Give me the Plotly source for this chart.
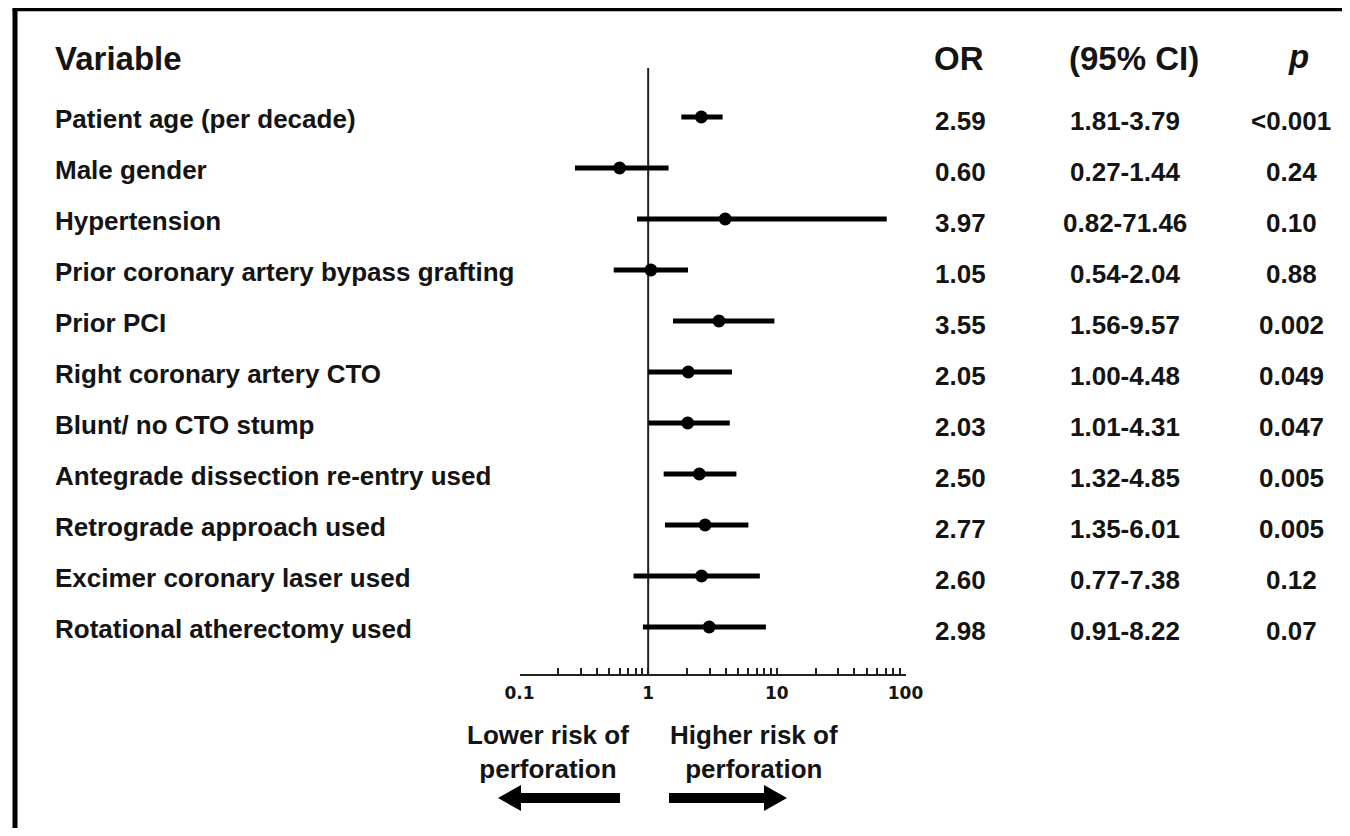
import plotly.graph_objects as go

variables = [
    "Patient age (per decade)",
    "Male gender",
    "Hypertension",
    "Prior coronary artery bypass grafting",
    "Prior PCI",
    "Right coronary artery CTO",
    "Blunt/ no CTO stump",
    "Antegrade dissection re-entry used",
    "Retrograde approach used",
    "Excimer coronary laser used",
    "Rotational atherectomy used",
]
odds_ratio = [2.59, 0.60, 3.97, 1.05, 3.55, 2.05, 2.03, 2.50, 2.77, 2.60, 2.98]
ci_low = [1.81, 0.27, 0.82, 0.54, 1.56, 1.00, 1.01, 1.32, 1.35, 0.77, 0.91]
ci_high = [3.79, 1.44, 71.46, 2.04, 9.57, 4.48, 4.31, 4.85, 6.01, 7.38, 8.22]
p_values = ["<0.001", "0.24", "0.10", "0.88", "0.002", "0.049", "0.047", "0.005", "0.005", "0.12", "0.07"]

decades = [0.1, 1, 10, 100]
decade_labels = ["0.1", "1", "10", "100"]

# figure sized to fit inside the page body (8px default margins)
OFF = 8
W, H = 1334, 820
ink = "#141414"
LABEL_FONT = dict(family="Liberation Sans, Arial, sans-serif", size=26, color=ink, weight="bold")
HEAD_FONT = dict(family="Liberation Sans, Arial, sans-serif", size=33, color=ink, weight="bold")

rows = list(range(len(variables)))

tickvals, ticktext = [], []
for i, d in enumerate(decades):
    tickvals.append(d)
    ticktext.append(decade_labels[i])
    if i < len(decades) - 1:
        for m in range(2, 10):
            tickvals.append(d * m)
            ticktext.append("")

fig = go.Figure()

xs, ys = [], []
for r, lo, hi in zip(rows, ci_low, ci_high):
    xs += [lo, hi, None]
    ys += [r, r, None]
fig.add_trace(go.Scatter(x=xs, y=ys, mode="lines", line=dict(color="black", width=5),
                         hoverinfo="skip", showlegend=False))
fig.add_trace(go.Scatter(x=odds_ratio, y=rows, mode="markers",
                         marker=dict(color="black", size=13), showlegend=False))


def px(x):
    return (x - OFF) / W


def py(y):
    return 1 - (y - OFF) / H


row0_px, row_step = 117 - OFF, 51
y_top = -row0_px / row_step
y_bot = (H - row0_px) / row_step

shapes = []
shapes.append(dict(type="line", xref="x", yref="paper", x0=1, x1=1,
                   y0=py(675), y1=py(68), line=dict(color="#222", width=2), layer="below"))
# frame (left and top)
shapes.append(dict(type="line", xref="paper", yref="paper", x0=px(15), x1=px(15),
                   y0=py(9), y1=0, line=dict(color="black", width=5)))
shapes.append(dict(type="line", xref="paper", yref="paper", x0=px(12.5), x1=1,
                   y0=py(9.5), y1=py(9.5), line=dict(color="black", width=3.5)))


def arrow_path(tip, base, tail, yc, head_half=13, shaft_half=5):
    pts = [(tip, yc), (base, yc - head_half), (base, yc - shaft_half), (tail, yc - shaft_half),
           (tail, yc + shaft_half), (base, yc + shaft_half), (base, yc + head_half)]
    return "M " + " L ".join(f"{px(a):.5f},{py(b):.5f}" for a, b in pts) + " Z"


shapes.append(dict(type="path", xref="paper", yref="paper", path=arrow_path(498, 521, 620, 798),
                   fillcolor="black", line=dict(width=0)))
shapes.append(dict(type="path", xref="paper", yref="paper", path=arrow_path(787, 764, 669, 798),
                   fillcolor="black", line=dict(width=0)))

annotations = []
hy = py(58)
annotations.append(dict(text="Variable", x=px(53), y=hy, xref="paper", yref="paper",
                        xanchor="left", yanchor="middle", showarrow=False, font=HEAD_FONT))
annotations.append(dict(text="OR", x=px(959), y=hy, xref="paper", yref="paper",
                        xanchor="center", yanchor="middle", showarrow=False, font=HEAD_FONT))
annotations.append(dict(text="(95% CI)", x=px(1134), y=hy, xref="paper", yref="paper",
                        xanchor="center", yanchor="middle", showarrow=False, font=HEAD_FONT))
annotations.append(dict(text="<i>p</i>", x=px(1298), y=py(56), xref="paper", yref="paper",
                        xanchor="center", yanchor="middle", showarrow=False, font=HEAD_FONT))

for r, name, orv, lo, hi, p in zip(rows, variables, odds_ratio, ci_low, ci_high, p_values):
    annotations.append(dict(text=name, x=px(53), y=r, xref="paper", yref="y",
                            xanchor="left", yanchor="middle", yshift=-2, showarrow=False, font=LABEL_FONT))
    annotations.append(dict(text=f"{orv:.2f}", x=px(960), y=r, xref="paper", yref="y",
                            xanchor="center", yanchor="middle", yshift=-4, showarrow=False, font=LABEL_FONT))
    annotations.append(dict(text=f"{lo:.2f}-{hi:.2f}", x=px(1125), y=r, xref="paper", yref="y",
                            xanchor="center", yanchor="middle", yshift=-4, showarrow=False, font=LABEL_FONT))
    annotations.append(dict(text=p, x=px(1291), y=r, xref="paper", yref="y",
                            xanchor="center", yanchor="middle", yshift=-4, showarrow=False, font=LABEL_FONT))

annotations.append(dict(text="Lower risk of<br>perforation", x=px(548), y=py(752), xref="paper", yref="paper",
                        xanchor="center", yanchor="middle", showarrow=False, align="center",
                        font=LABEL_FONT))
annotations.append(dict(text="Higher risk of<br>perforation", x=px(754), y=py(752), xref="paper", yref="paper",
                        xanchor="center", yanchor="middle", showarrow=False, align="center",
                        font=LABEL_FONT))

fig.update_layout(
    width=W, height=H,
    margin=dict(l=0, r=0, t=0, b=0, pad=0, autoexpand=False),
    paper_bgcolor="white", plot_bgcolor="rgba(0,0,0,0)",
    showlegend=False,
    xaxis=dict(type="log", range=[-1, 2], domain=[px(519.5), px(905.5)],
               anchor="free", position=py(675), automargin=False,
               showline=True, linecolor="#222", linewidth=2,
               ticks="inside", ticklen=6, tickwidth=2, tickcolor="#222",
               tickvals=tickvals, ticktext=ticktext, ticklabelstandoff=3,
               tickfont=dict(family="DejaVu Sans, Verdana, sans-serif", size=17, color=ink, weight="bold"),
               showgrid=False, zeroline=False),
    yaxis=dict(range=[y_bot, y_top], domain=[0, 1], visible=False, automargin=False,
               showgrid=False, zeroline=False),
    shapes=shapes,
    annotations=annotations,
)

fig.write_html("out.html")
